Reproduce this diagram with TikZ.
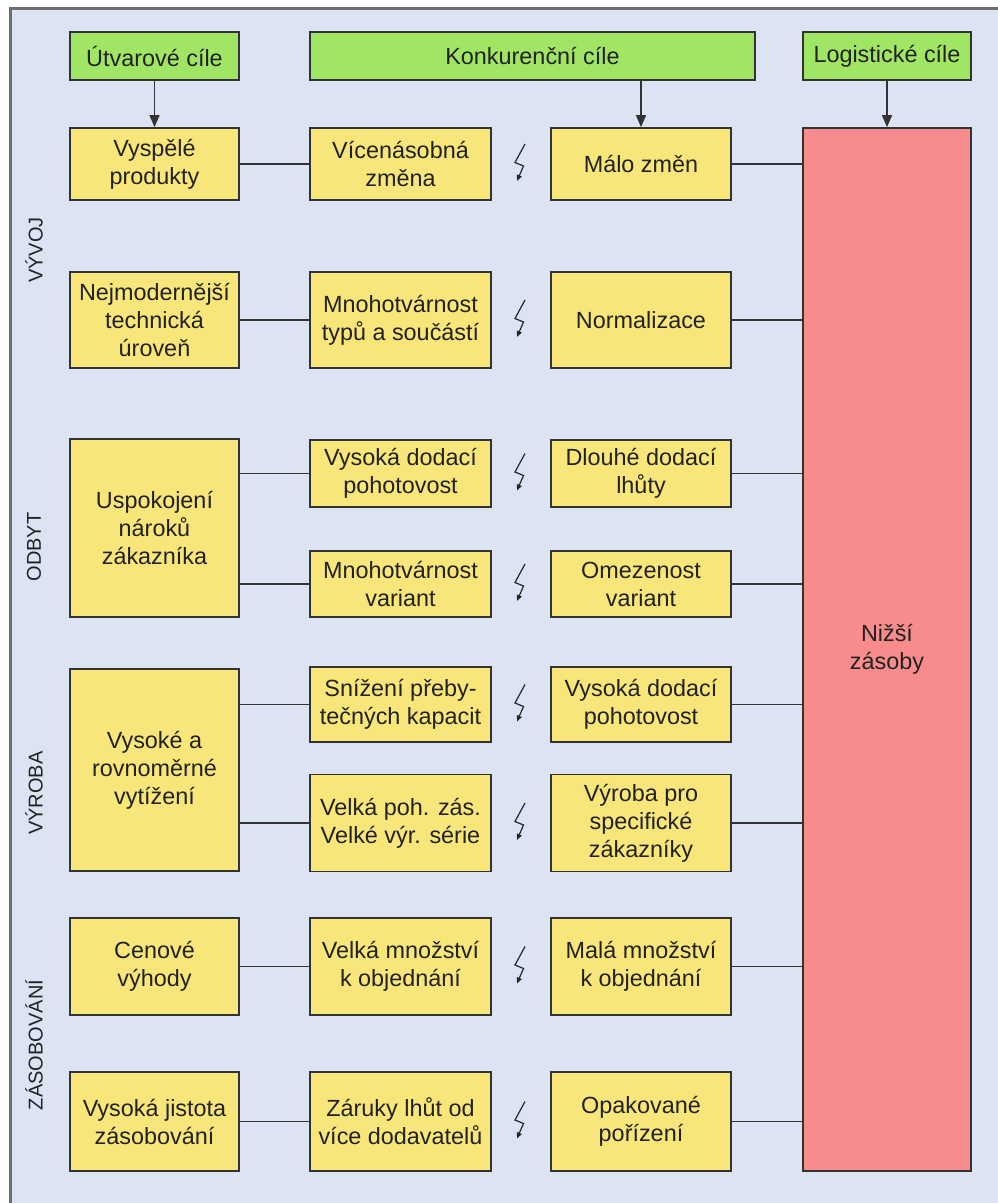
\documentclass[tikz,border=0pt]{standalone}
\usepackage{fontspec}
\setmainfont{Liberation Sans}
\usetikzlibrary{arrows.meta}
\definecolor{bg}{HTML}{DCE3F2}
\definecolor{gfill}{HTML}{A0E664}
\definecolor{yfill}{HTML}{F8E67A}
\definecolor{rfill}{HTML}{F88C8C}
\definecolor{edge}{HTML}{333333}
\definecolor{txt}{HTML}{222222}
\definecolor{framec}{HTML}{6E6E6E}
\begin{document}
\begin{tikzpicture}[x=1pt,y=-1pt,
  box/.style={draw=edge, line width=1.8pt, rectangle, inner sep=0pt, align=center, text=txt, font=\fontsize{23.4}{28}\selectfont},
  gbox/.style={box, fill=gfill},
  ybox/.style={box, fill=yfill},
  rbox/.style={box, fill=rfill},
  conn/.style={draw=edge, line width=1.6pt},
  arr/.style={conn, -{Triangle[length=12pt,width=10pt]}},
  bolt/.style={draw=black!85, line width=1.2pt, -{Triangle[length=6pt,width=5pt]}},
  side/.style={rotate=90, text=txt, font=\fontsize{20}{24}\selectfont},
  boltpic/.pic={\draw[bolt] (4,-20) -- (-6,-1.5) -- (2.5,2) -- (-4,17);}
]
\useasboundingbox (0,0) rectangle (997,1203);
\fill[bg] (10,8) rectangle (1010,1215);
\draw[framec, line width=3pt] (1010,8) -- (10,8) -- (10,1215);

% goal headers
\node[gbox, minimum width=169pt, minimum height=48pt] (ut) at (154.5,56) {Útvarové cíle};
\node[gbox, minimum width=445pt, minimum height=48pt] (ko) at (532.5,56) {Konkurenční cíle};
\node[gbox, minimum width=168pt, minimum height=48pt] (lo) at (887,56) {Logistické cíle};

% red box
\node[rbox, minimum width=168pt, minimum height=1043pt] (red) at (887,649.5) {Nižší\\zásoby};

% row 1
\node[ybox, minimum width=169pt, minimum height=72pt] (a1) at (154.5,164) {Vyspělé\\produkty};
\node[ybox, minimum width=181pt, minimum height=72pt] (b1) at (400.5,164) {Vícenásobná\\změna};
\node[ybox, minimum width=180pt, minimum height=72pt] (c1) at (641,164) {Málo změn};

% row 2
\node[ybox, minimum width=169pt, minimum height=96pt] (a2) at (154.5,320) {Nejmodernější\\technická\\úroveň};
\node[ybox, minimum width=181pt, minimum height=96pt] (b2) at (400.5,320) {Mnohotvárnost\\typů a součástí};
\node[ybox, minimum width=180pt, minimum height=96pt] (c2) at (641,320) {Normalizace};

% odbyt
\node[ybox, minimum width=169pt, minimum height=178pt] (a3) at (154.5,528) {Uspokojení\\nároků\\zákazníka};
\node[ybox, minimum width=181pt, minimum height=67pt] (b3) at (400.5,473.5) {Vysoká dodací\\pohotovost};
\node[ybox, minimum width=180pt, minimum height=67pt] (c3) at (641,473.5) {Dlouhé dodací\\lhůty};
\node[ybox, minimum width=181pt, minimum height=66pt] (b4) at (400.5,584) {Mnohotvárnost\\variant};
\node[ybox, minimum width=180pt, minimum height=66pt] (c4) at (641,584) {Omezenost\\variant};

% vyroba
\node[ybox, minimum width=169pt, minimum height=202pt] (a5) at (154.5,770) {Vysoké a\\rovnoměrné\\vytížení};
\node[ybox, minimum width=181pt, minimum height=75pt] (b5) at (400.5,704.5) {Snížení přeby-\\tečných kapacit};
\node[ybox, minimum width=180pt, minimum height=75pt] (c5) at (641,704.5) {Vysoká dodací\\pohotovost};
\node[ybox, minimum width=181pt, minimum height=97pt] (b6) at (400.5,823) {Velká poh. zás.\\Velké výr. série};
\node[ybox, minimum width=180pt, minimum height=97pt] (c6) at (641,823) {Výroba pro\\specifické\\zákazníky};

% zasobovani
\node[ybox, minimum width=169pt, minimum height=97pt] (a7) at (154.5,966.5) {Cenové\\výhody};
\node[ybox, minimum width=181pt, minimum height=97pt] (b7) at (400.5,966.5) {Velká množství\\k objednání};
\node[ybox, minimum width=180pt, minimum height=97pt] (c7) at (641,966.5) {Malá množství\\k objednání};
\node[ybox, minimum width=169pt, minimum height=99pt] (a8) at (154.5,1121.5) {Vysoká jistota\\zásobování};
\node[ybox, minimum width=181pt, minimum height=99pt] (b8) at (400.5,1121.5) {Záruky lhůt od\\více dodavatelů};
\node[ybox, minimum width=180pt, minimum height=99pt] (c8) at (641,1121.5) {Opakované\\pořízení};

% side labels
\node[side] (sv) at (34,250) {VÝVOJ};
\node[side] (so) at (34,547) {ODBYT};
\node[side] (sr) at (34,793) {VÝROBA};
\node[side] (sz) at (34,1045) {ZÁSOBOVÁNÍ};

% arrows
\draw[arr] (ut.south) -- (a1.north);
\draw[arr] (ko.south -| c1.north) -- (c1.north);
\draw[arr] (lo.south) -- (red.north);

% connectors left-middle
\draw[conn] (a1.east) -- (b1.west);
\draw[conn] (a2.east) -- (b2.west);
\draw[conn] (b3.west -| a3.east) -- (b3.west);
\draw[conn] (b4.west -| a3.east) -- (b4.west);
\draw[conn] (b5.west -| a5.east) -- (b5.west);
\draw[conn] (b6.west -| a5.east) -- (b6.west);
\draw[conn] (a7.east) -- (b7.west);
\draw[conn] (a8.east) -- (b8.west);

% connectors right-red
\foreach \n in {c1,c2,c3,c4,c5,c6,c7,c8}
  \draw[conn] (\n.east) -- (\n.east -| red.west);

% lightning bolts
\foreach \y in {164,320,473.5,584,704.5,823,966.5,1121.5}
  \pic at (521,\y) {boltpic};
\end{tikzpicture}
\end{document}
